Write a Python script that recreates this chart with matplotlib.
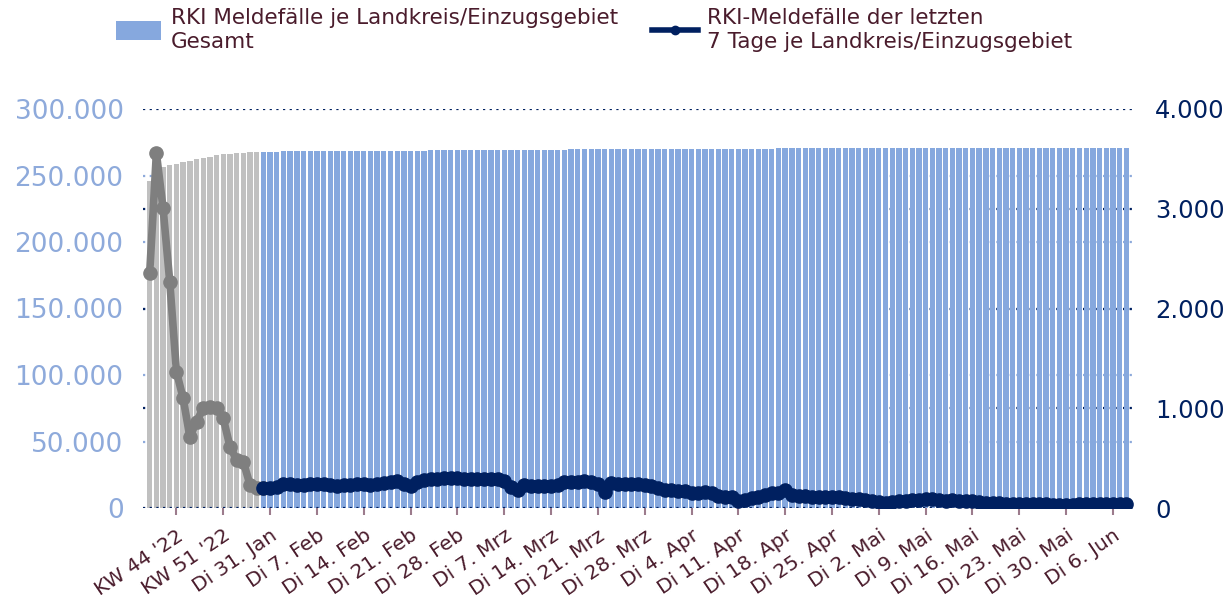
import matplotlib

matplotlib.use("Agg")
import matplotlib.pyplot as plt
from matplotlib.lines import Line2D
from matplotlib.patches import Patch

# weekly totals (KW 40 '22 .. KW 4 '23), shown in gray
WEEK_TOTALS = [246100, 253400, 256200, 257700, 258900, 259900, 260900, 262200,
               263200, 264100, 265200, 265900, 266400, 266900, 267100, 267500,
               267700]
WEEK_7DAY = [2353, 3556, 3004, 2269, 1367, 1099, 715, 865, 999, 1016, 999,
             899, 615, 481, 464, 231, 197]

# daily totals from Mo 30. Jan to Do 8. Jun 2023
DAY_TOTALS = [
    267950, 267985, 268020, 268050, 268085, 268120, 268150, 268185, 268220, 268250,
    268280, 268315, 268350, 268385, 268415, 268450, 268485, 268520, 268555, 268590,
    268625, 268660, 268695, 268735, 268775, 268815, 268855, 268895, 268935, 268975,
    269015, 269055, 269095, 269135, 269175, 269210, 269240, 269265, 269295, 269325,
    269355, 269385, 269415, 269450, 269485, 269520, 269555, 269590, 269625, 269655,
    269680, 269715, 269750, 269785, 269815, 269850, 269880, 269910, 269940, 269965,
    269990, 270015, 270040, 270060, 270080, 270100, 270120, 270140, 270155, 270170,
    270180, 270195, 270210, 270225, 270245, 270265, 270285, 270305, 270320, 270335,
    270350, 270365, 270380, 270395, 270410, 270425, 270440, 270455, 270465, 270478,
    270490, 270500, 270508, 270516, 270526, 270536, 270547, 270558, 270570, 270582,
    270594, 270604, 270614, 270624, 270634, 270644, 270653, 270662, 270670, 270677,
    270684, 270690, 270696, 270702, 270708, 270714, 270720, 270725, 270729, 270734,
    270739, 270744, 270750, 270756, 270761, 270767, 270773, 270779, 270785, 270791,
]
DAY_7DAY = [
    203, 205, 210, 240, 245, 235, 235, 238, 240, 242,
    228, 225, 232, 235, 238, 236, 232, 238, 250, 262,
    268, 245, 222, 262, 280, 290, 295, 300, 300, 298,
    290, 288, 290, 292, 295, 293, 270, 210, 180, 228,
    220, 225, 225, 222, 232, 262, 265, 265, 268, 262,
    245, 160, 255, 245, 240, 238, 240, 235, 220, 205,
    185, 178, 175, 168, 150, 152, 160, 155, 125, 110,
    108, 70, 85, 100, 115, 135, 148, 150, 180, 135,
    125, 118, 112, 110, 108, 112, 110, 100, 95, 92,
    85, 75, 60, 55, 62, 72, 75, 78, 80, 95,
    88, 80, 75, 78, 72, 70, 68, 65, 55, 52,
    48, 45, 42, 40, 42, 45, 40, 38, 30, 28,
    35, 35, 38, 40, 38, 40, 42, 40, 42, 40,
]

TICK_POS = [4, 11, 18, 25, 32, 39, 46, 53, 60, 67, 74, 81, 88, 95, 102, 109,
            116, 123, 130, 137, 144]
TICK_LABELS = ["KW 44 '22", "KW 51 '22", "Di 31. Jan", "Di 7. Feb", "Di 14. Feb",
               "Di 21. Feb", "Di 28. Feb", "Di 7. Mrz", "Di 14. Mrz", "Di 21. Mrz",
               "Di 28. Mrz", "Di 4. Apr", "Di 11. Apr", "Di 18. Apr", "Di 25. Apr",
               "Di 2. Mai", "Di 9. Mai", "Di 16. Mai", "Di 23. Mai", "Di 30. Mai",
               "Di 6. Jun"]

LEFT_TICKS = [0, 50000, 100000, 150000, 200000, 250000, 300000]
RIGHT_TICKS = [0, 1000, 2000, 3000, 4000]

GRAY_BAR = "#c0c0c0"
BLUE_BAR = "#86a8de"
GRAY_LINE = "#7f7f7f"
NAVY = "#002060"
LIGHT_BLUE = "#8eaadb"
MAROON = "#4a1c2c"
TICK_MAUVE = "#9c7b8c"


def fmt(v):
    return f"{v:,.0f}".replace(",", ".")


fig = plt.figure(figsize=(12.31, 6.04), dpi=100)
ax = fig.add_axes([143 / 1231, 96 / 604, 990 / 1231, 399 / 604])
ax2 = ax.twinx()

n_week = len(WEEK_TOTALS)
n_day = len(DAY_TOTALS)
xw = list(range(n_week))
xd = list(range(n_week, n_week + n_day))

# gridlines (behind the bars)
for v in LEFT_TICKS[1:-1]:
    ax.axhline(v, color=LIGHT_BLUE, lw=1.6, ls=(0, (1, 2)), zorder=0)
for v in RIGHT_TICKS[1:]:
    ax.axhline(v * 75, color=NAVY, lw=1.6, ls=(0, (1, 2)), zorder=0)

ax.bar(xw, WEEK_TOTALS, width=0.8, color=GRAY_BAR, zorder=2)
ax.bar(xd, DAY_TOTALS, width=0.8, color=BLUE_BAR, zorder=2)
ax.axhline(0, color=NAVY, lw=1.6, ls=(0, (1, 2)), zorder=3)

ax2.plot(xw + [xd[0]], WEEK_7DAY + [DAY_7DAY[0]], color=GRAY_LINE, lw=5.5,
         marker="o", ms=9.5, solid_capstyle="round", zorder=3)
ax2.plot(xd, DAY_7DAY, color=NAVY, lw=5.5, marker="o", ms=9.5,
         solid_capstyle="round", zorder=4)

ax.set_xlim(-1, n_week + n_day)
ax.set_ylim(0, 300000)
ax2.set_ylim(0, 4000)
ax.set_zorder(1)
ax2.set_zorder(2)
ax.patch.set_visible(False)

for a in (ax, ax2):
    for s in a.spines.values():
        s.set_visible(False)

ax.set_yticks(LEFT_TICKS)
ax.set_yticklabels([fmt(v) for v in LEFT_TICKS])
ax.tick_params(axis="y", length=0, pad=14, labelsize=19, labelcolor=LIGHT_BLUE)
ax2.set_yticks(RIGHT_TICKS)
ax2.set_yticklabels([fmt(v) for v in RIGHT_TICKS])
ax2.tick_params(axis="y", length=0, pad=16, labelsize=17.5, labelcolor=NAVY)

ax.set_xticks(TICK_POS)
ax.set_xticklabels(TICK_LABELS, rotation=34, ha="right", va="top",
                   rotation_mode="anchor")
ax.tick_params(axis="x", length=5, width=1.5, color=TICK_MAUVE, pad=8,
               labelsize=14.5, labelcolor=MAROON)

handles = [
    Patch(facecolor=BLUE_BAR, edgecolor="none"),
    Line2D([], [], color=NAVY, lw=4, marker="o", ms=6),
]
labels = ["RKI Meldefälle je Landkreis/Einzugsgebiet\nGesamt",
          "RKI-Meldefälle der letzten\n7 Tage je Landkreis/Einzugsgebiet"]
leg = fig.legend(handles, labels, loc="upper left", ncol=2, frameon=False,
                 bbox_to_anchor=(116 / 1231, 1 - 8 / 604), borderpad=0,
                 borderaxespad=0, handlelength=2.1, handleheight=0.95,
                 handletextpad=0.45, columnspacing=1.6, fontsize=15.5)
for t in leg.get_texts():
    t.set_color(MAROON)
    t.set_linespacing(1.25)

fig.savefig("out.png", dpi=100)
